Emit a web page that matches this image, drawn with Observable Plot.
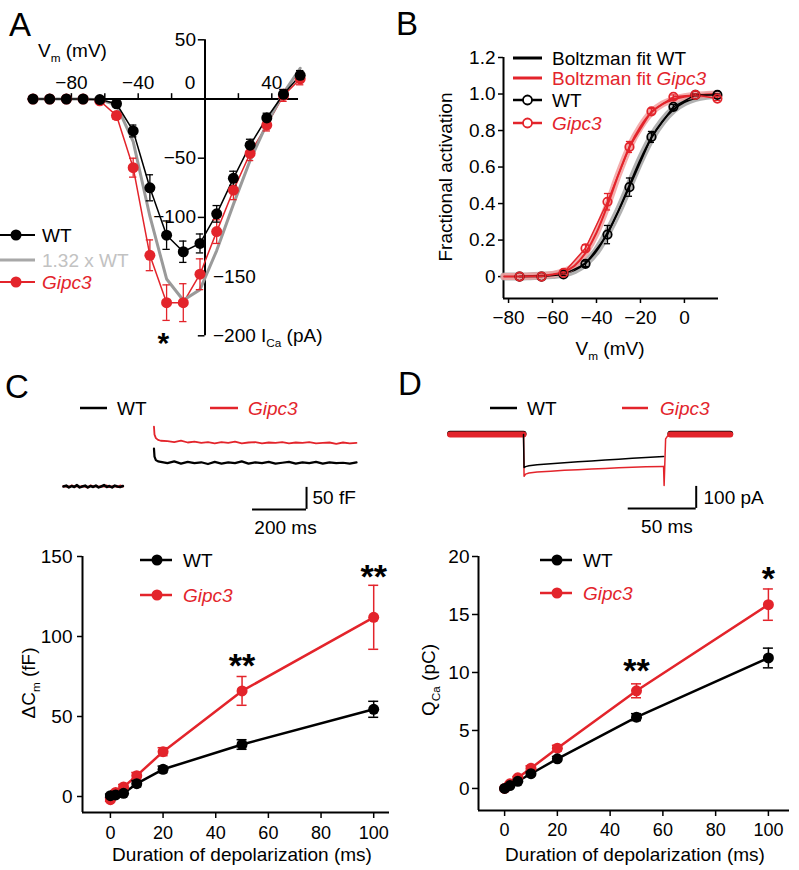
<!DOCTYPE html>
<html><head><meta charset="utf-8">
<script src="https://cdn.jsdelivr.net/npm/d3@7"></script>
<script src="https://cdn.jsdelivr.net/npm/@observablehq/plot@0.6"></script>
<style>
body{margin:0;background:#fff;}
#fig{position:relative;width:799px;height:870px;overflow:hidden;background:#fff;}
.panel{position:absolute;}
.panel svg{display:block;}
</style></head><body><div id="fig"></div>
<script>
// ---------- Panel A: I–V relation ----------
const ivVm = [-103,-93,-83,-73,-63,-53,-43,-33,-23,-13,-3,7,17,27,37,47,57];
const ivWT = [0,0,0,0,-0.5,-4,-27,-75,-115,-129,-122,-97,-67,-39,-16,4,20];
const ivWTerr = [0,0,0,0,0,2,5,11,12,9,8,7,6,5,4,4,4];
const ivGipc3 = [0,0,0,0,-1.5,-14,-58,-132,-172,-172,-148,-112,-77,-46,-22,3,17];
const ivGipc3err = [0,0,0,0,0,3,8,13,15,16,13,10,8,6,5,5,5];
const ivScaled = [0,0,0,0,-0.7,-5,-36,-99,-152,-170,-161,-128,-89,-52,-21,5,26]; // 1.32 x WT
const aXTicks = [-80,-60,-40,-20,20,40];
const aXLabels = [-80,-40,40];
const aYTicks = [50,-50,-100,-150,-200];
const aYLeft = [50,-50,-100];
const aYRight = [-150,-200];

// ---------- Panel B: activation ----------
const actVm = [-75,-65,-55,-45,-35,-25,-15,-5,5,15];
const actWT = [0,0,0.012,0.07,0.23,0.49,0.765,0.93,0.995,0.995];
const actWTerr = [0,0,0.005,0.015,0.05,0.05,0.03,0.012,0.005,0.005];
const actGipc3 = [0,0,0.02,0.155,0.41,0.71,0.905,0.985,0.995,0.975];
const actGipc3err = [0,0,0.006,0.02,0.045,0.03,0.015,0.01,0.005,0.01];
const fitVm = [-82,-75,-70,-65,-60,-55,-50,-45,-40,-35,-30,-25,-20,-15,-10,-5,0,5,10,15];
const fitWT = [0,0,0.002,0.004,0.008,0.016,0.035,0.075,0.14,0.24,0.36,0.5,0.64,0.76,0.85,0.915,0.955,0.978,0.99,0.996];
const fitGipc3 = [0,0.001,0.003,0.006,0.012,0.026,0.06,0.13,0.24,0.39,0.56,0.71,0.82,0.9,0.945,0.97,0.985,0.993,0.997,1.0];
const bXTicks = [-80,-60,-40,-20,0];
const bYTicks = [0,0.2,0.4,0.6,0.8,1.0,1.2];

// ---------- Panel C: capacitance traces & summary ----------
const cPreT = [0,10,20,30,40,50,60,70,80,90,100,110,120,130,140,150,160,170,180,190,200,210,220];
const cPreWT = [0,2,-2,1,-1,3,-2,0,2,-2,1,-1,2,-2,0,3,-1,1,-2,2,0,-1,1];
const cPreGipc3 = [1,0,-1,2,0,1,-1,1,0,-2,2,0,1,-1,1,0,2,-1,0,1,-1,2,0];
const cPostT = [335,337,342,350,360,385,410,435,460,485,510,535,560,585,610,635,660,685,710,735,760,785,810,835,860,885,910,935,960,985,1010,1035,1060,1085];
const cPostGipc3 = [136,118,110,106,104,103,101,104,100,102,99,101,98,101,99,102,98,100,101,98,100,99,101,98,100,99,101,98,99,100,97,100,98,99];
const cPostWT = [86,68,60,57,56,53,57,52,56,53,55,51,56,52,55,53,57,52,55,53,56,52,54,56,52,55,53,56,52,55,53,54,52,55];
const durMs = [0,2,5,10,20,50,100];
const cmWT = [0.5,1,2,8,17,32.5,54.5];
const cmWTerr = [1,1,1.2,2,2,3,5];
const cmGipc3 = [-2,2.5,6,13,28,66,112];
const cmGipc3err = [1,1.2,1.5,2,2.5,9,20];
const cXTicks = [0,20,40,60,80,100];
const cYTicks = [0,50,100,150];

// ---------- Panel D: current traces & charge ----------
const dPreT = [-54,0];
const dPreWT = [3,3];
const dPreGipc3 = [0,0];
const dPulseT = [0,0.4,1.5,4,10,20,30,40,50,60,70,80,90,103];
const dPulseWT = [0,-150,-146,-142,-138,-133,-128,-124,-120,-116,-112,-108,-104,-100];
const dPulseGipc3 = [0,-190,-180,-175,-171,-167,-163,-160,-157,-154,-151,-149,-147,-145];
const dTailT = [103,103.4,104.5,106,108];
const dTailWT = [-100,-200,-15,-4,3];
const dTailGipc3 = [-145,-232,-20,-6,0];
const dPostT = [108,152];
const dPostWT = [3,3];
const dPostGipc3 = [0,0];
const qWT = [0,0.25,0.62,1.27,2.56,6.15,11.25];
const qWTerr = [0.05,0.1,0.1,0.15,0.2,0.3,0.85];
const qGipc3 = [0,0.4,0.92,1.75,3.47,8.42,15.85];
const qGipc3err = [0.05,0.1,0.1,0.2,0.25,0.6,1.35];
const dXTicks = [0,20,40,60,80,100];
const dYTicks = [0,5,10,15,20];

// ---------- helpers ----------
const FONT = '"Liberation Sans", Arial, Helvetica, sans-serif';
const RED = "#e3242b";
const BLK = "#000";
const fig = document.getElementById("fig");
const minus = d => (d < 0 ? "\u2212" + Math.abs(d) : String(d));
const baseStyle = {background: "transparent", overflow: "visible", fontFamily: FONT, fontSize: "19px", color: "#000"};

function place(svg, left, top, w, h) {
  const d = document.createElement("div");
  d.className = "panel";
  Object.assign(d.style, {left: left + "px", top: top + "px", width: w + "px", height: h + "px"});
  d.appendChild(svg);
  fig.appendChild(d);
  return d3.select(svg);
}
function rich(sel, x, y, segs, o = {}) {
  const size = o.size || 19;
  const t = sel.append("text").attr("font-family", FONT).attr("font-size", size)
    .attr("fill", o.fill || "#000").attr("text-anchor", o.anchor || "start");
  if (o.weight) t.attr("font-weight", o.weight);
  if (o.rotate) t.attr("transform", `translate(${x},${y}) rotate(${o.rotate})`);
  else t.attr("x", x).attr("y", y);
  let shift = 0;
  for (const s of segs) {
    const seg = typeof s === "string" ? {t: s} : s;
    const sp = t.append("tspan").text(seg.t);
    const target = seg.sub ? size * 0.28 : 0;
    if (target !== shift) { sp.attr("dy", target - shift); shift = target; }
    if (seg.sub) sp.attr("font-size", size * 0.62);
    if (seg.it) sp.attr("font-style", "italic");
    if (seg.fill) sp.attr("fill", seg.fill);
  }
  return t;
}
function legendRow(sel, o) {
  sel.append("line").attr("x1", o.x1).attr("x2", o.x2).attr("y1", o.y).attr("y2", o.y)
    .attr("stroke", o.stroke).attr("stroke-width", o.sw || 2);
  if (o.dot) sel.append("circle").attr("cx", o.cx).attr("cy", o.y).attr("r", o.r || 5.5)
    .attr("fill", o.open ? "#fff" : o.stroke).attr("stroke", o.open ? o.stroke : "none")
    .attr("stroke-width", o.open ? 1.8 : 0);
  rich(sel, o.tx, o.y + 7, o.segs, {fill: o.fill || o.stroke, size: o.size || 19});
}
function errMarks(data, x, y, e, color, half, sw) {
  const f = data.filter(d => d[e] > 0);
  return [
    Plot.ruleX(f, {x, y1: d => d[y] - d[e], y2: d => d[y] + d[e], stroke: color, strokeWidth: sw}),
    Plot.ruleY(f, {y: d => d[y] - d[e], x1: d => d[x] - half, x2: d => d[x] + half, stroke: color, strokeWidth: sw}),
    Plot.ruleY(f, {y: d => d[y] + d[e], x1: d => d[x] - half, x2: d => d[x] + half, stroke: color, strokeWidth: sw})
  ];
}
const pairs = (xs, ys) => xs.map((x, i) => [x, ys[i]]);

// ---------- Panel A ----------
const A = ivVm.map((v, i) => ({v, wt: ivWT[i], we: ivWTerr[i], g: ivGipc3[i], ge: ivGipc3err[i], s: ivScaled[i]}));
const svgA = Plot.plot({
  width: 400, height: 360, margin: 0, style: baseStyle,
  x: {domain: [-100, 50], range: [37.5, 288], axis: null},
  y: {domain: [50, -200], range: [39.3, 335.3], axis: null},
  marks: [
    Plot.ruleY([0], {x1: -106, x2: 56, stroke: BLK, strokeWidth: 2}),
    Plot.ruleX([0], {y1: -200, y2: 50, stroke: BLK, strokeWidth: 2}),
    Plot.ruleX(aXTicks, {x: d => d, y1: 0, y2: 4.5, stroke: BLK, strokeWidth: 1.5}),
    Plot.ruleY(aYTicks, {y: d => d, x1: -4, x2: 0, stroke: BLK, strokeWidth: 1.5}),
    Plot.text(aXLabels, {x: d => d, y: 0, dy: -16, text: minus}),
    Plot.text([0], {x: 0, y: 0, dx: -15, dy: -16, text: minus}),
    Plot.text(aYLeft, {x: 0, y: d => d, dx: -9, textAnchor: "end", text: minus}),
    Plot.text(aYRight, {x: 0, y: d => d, dx: 8, textAnchor: "start", text: minus}),
    Plot.line(A, {x: "v", y: "g", stroke: RED, strokeWidth: 1.5}),
    Plot.line(A, {x: "v", y: "s", stroke: "#9a9a9a", strokeWidth: 3}),
    Plot.line(A, {x: "v", y: "wt", stroke: BLK, strokeWidth: 1.5}),
    ...errMarks(A, "v", "g", "ge", RED, 2.2, 1.3),
    ...errMarks(A, "v", "wt", "we", BLK, 2.2, 1.3),
    Plot.dot(A, {x: "v", y: "g", r: 5.5, fill: RED}),
    Plot.dot(A, {x: "v", y: "wt", r: 5.5, fill: BLK}),
    Plot.text(["*"], {x: -25, y: -200, dy: 8, text: d => d, fontSize: 30, fontWeight: "bold"})
  ]
});
const gA = place(svgA, 0, 0, 400, 360);
rich(gA, 38, 57, ["V", {t: "m", sub: true}, " (mV)"]);
rich(gA, 261, 342, ["I", {t: "Ca", sub: true}, " (pA)"]);
legendRow(gA, {x1: 0, x2: 35, cx: 16, y: 235, stroke: BLK, dot: true, tx: 42, segs: ["WT"]});
legendRow(gA, {x1: 0, x2: 35, y: 260, stroke: "#a8a8a8", sw: 3, tx: 42, fill: "#c2c2c2", segs: ["1.32 x WT"]});
legendRow(gA, {x1: 0, x2: 35, cx: 16, y: 282, stroke: RED, dot: true, tx: 42, segs: [{t: "Gipc3", it: true}]});

// ---------- Panel B ----------
const Bd = actVm.map((v, i) => ({v, wt: actWT[i], we: actWTerr[i], g: actGipc3[i], ge: actGipc3err[i]}));
const Fd = fitVm.map((v, i) => ({v, wt: fitWT[i], g: fitGipc3[i]}));
const svgB = Plot.plot({
  width: 399, height: 360, marginLeft: 103, marginRight: 81, marginTop: 57, marginBottom: 62, style: baseStyle,
  x: {domain: [-82.3, 15.5], label: null},
  y: {domain: [-0.12, 1.2], label: null},
  marks: [
    Plot.ruleX([-82.3], {y1: -0.12, y2: 1.2, stroke: BLK, strokeWidth: 2}),
    Plot.ruleY([-0.12], {x1: -82.3, x2: 15.5, stroke: BLK, strokeWidth: 2}),
    Plot.axisY({ticks: bYTicks, tickSize: 5, tickPadding: 3, strokeWidth: 1.5, label: null,
      tickFormat: d => (d === 0 ? "0" : d.toFixed(1))}),
    Plot.axisX({ticks: bXTicks, tickSize: 5, tickPadding: 7, strokeWidth: 1.5, label: null, tickFormat: minus}),
    Plot.line(Fd, {x: "v", y: "wt", stroke: "#9d9d9d", strokeOpacity: 0.8, strokeWidth: 8, curve: "monotone-x"}),
    Plot.line(Fd, {x: "v", y: "wt", stroke: BLK, strokeWidth: 2, curve: "monotone-x"}),
    Plot.line(Fd, {x: "v", y: "g", stroke: "#f2a0a0", strokeOpacity: 0.85, strokeWidth: 7, curve: "monotone-x"}),
    Plot.line(Fd, {x: "v", y: "g", stroke: RED, strokeWidth: 2, curve: "monotone-x"}),
    Plot.line(Bd, {x: "v", y: "wt", stroke: BLK, strokeWidth: 1.5}),
    Plot.line(Bd, {x: "v", y: "g", stroke: RED, strokeWidth: 1.5}),
    ...errMarks(Bd, "v", "wt", "we", BLK, 1.4, 1.3),
    ...errMarks(Bd, "v", "g", "ge", RED, 1.4, 1.3),
    Plot.dot(Bd, {x: "v", y: "wt", r: 4.2, fill: "none", stroke: BLK, strokeWidth: 1.8}),
    Plot.dot(Bd, {x: "v", y: "g", r: 4.2, fill: "none", stroke: RED, strokeWidth: 1.8})
  ]
});
const gB = place(svgB, 400, 0, 399, 360);
rich(gB, 51.5, 177, ["Fractional activation"], {anchor: "middle", rotate: -90});
rich(gB, 210, 355, ["V", {t: "m", sub: true}, " (mV)"], {anchor: "middle"});
legendRow(gB, {x1: 113, x2: 142, y: 58, stroke: BLK, sw: 3, tx: 152, segs: ["Boltzman fit WT"]});
legendRow(gB, {x1: 113, x2: 142, y: 78, stroke: RED, sw: 3, tx: 152, segs: ["Boltzman fit ", {t: "Gipc3", it: true}]});
legendRow(gB, {x1: 113, x2: 142, cx: 127.5, y: 100, stroke: BLK, sw: 2.5, dot: true, open: true, r: 4.5, tx: 152, segs: ["WT"]});
legendRow(gB, {x1: 113, x2: 142, cx: 127.5, y: 123, stroke: RED, sw: 2.5, dot: true, open: true, r: 4.5, tx: 152, segs: [{t: "Gipc3", it: true}]});

// ---------- Panel C traces ----------
const svgCt = Plot.plot({
  width: 400, height: 180, margin: 0, style: baseStyle,
  x: {domain: [0, 1085], range: [63, 356], axis: null},
  y: {domain: [-100, 150], range: [170, 60], axis: null},
  marks: [
    Plot.line(pairs(cPreT, cPreGipc3), {stroke: RED, strokeWidth: 2.2}),
    Plot.line(pairs(cPreT, cPreWT), {stroke: BLK, strokeWidth: 2.6}),
    Plot.line(pairs(cPostT, cPostGipc3), {stroke: RED, strokeWidth: 1.8}),
    Plot.line(pairs(cPostT, cPostWT), {stroke: BLK, strokeWidth: 2.2}),
    Plot.ruleY([-52], {x1: 700, x2: 900, stroke: BLK, strokeWidth: 2}),
    Plot.ruleX([900], {y1: -52, y2: -2, stroke: BLK, strokeWidth: 2}),
    Plot.text(["50 fF"], {x: 922, y: -27, text: d => d, textAnchor: "start"}),
    Plot.text(["200 ms"], {x: 822, y: -93, text: d => d})
  ]
});
const gCt = place(svgCt, 0, 360, 400, 180);
legendRow(gCt, {x1: 80, x2: 107, y: 48, stroke: BLK, sw: 2.5, tx: 117, segs: ["WT"]});
legendRow(gCt, {x1: 210, x2: 238, y: 48, stroke: RED, sw: 2.5, tx: 248, segs: [{t: "Gipc3", it: true}]});

// ---------- Panel D traces ----------
const svgDt = Plot.plot({
  width: 399, height: 180, margin: 0, style: baseStyle,
  x: {domain: [-54, 152], range: [49.6, 329.7], axis: null},
  y: {domain: [-450, 100], range: [173, 52], axis: null},
  marks: [
    Plot.line(pairs(dPreT, dPreWT), {stroke: BLK, strokeWidth: 6}),
    Plot.line(pairs(dPreT, dPreGipc3), {stroke: RED, strokeWidth: 6}),
    Plot.line(pairs(dPostT, dPostWT), {stroke: BLK, strokeWidth: 6}),
    Plot.line(pairs(dPostT, dPostGipc3), {stroke: RED, strokeWidth: 6}),
    Plot.line(pairs(dPulseT, dPulseGipc3), {stroke: RED, strokeWidth: 1.5}),
    Plot.line(pairs(dTailT, dTailGipc3), {stroke: RED, strokeWidth: 1.5}),
    Plot.line(pairs(dPulseT, dPulseWT), {stroke: BLK, strokeWidth: 1.5}),
    Plot.ruleY([-336], {x1: 77, x2: 127, stroke: BLK, strokeWidth: 2}),
    Plot.ruleX([127], {y1: -336, y2: -236, stroke: BLK, strokeWidth: 2}),
    Plot.text(["100 pA"], {x: 132.4, y: -286, text: d => d, textAnchor: "start"}),
    Plot.text(["50 ms"], {x: 105.5, y: -418, text: d => d})
  ]
});
const gDt = place(svgDt, 400, 360, 399, 180);
legendRow(gDt, {x1: 90, x2: 117, y: 48, stroke: BLK, sw: 2.5, tx: 127, segs: ["WT"]});
legendRow(gDt, {x1: 222, x2: 248, y: 48, stroke: RED, sw: 2.5, tx: 260, segs: [{t: "Gipc3", it: true}]});

// ---------- Panel C summary ----------
const Cd = durMs.map((t, i) => ({t, wt: cmWT[i], we: cmWTerr[i], g: cmGipc3[i], ge: cmGipc3err[i]}));
const svgC = Plot.plot({
  width: 400, height: 330, marginLeft: 82, marginRight: 11, marginTop: 16, marginBottom: 58, style: baseStyle,
  x: {domain: [-10.6, 106], label: null},
  y: {domain: [-10, 150], label: null},
  marks: [
    Plot.ruleX([-10.6], {y1: -10, y2: 150, stroke: BLK, strokeWidth: 2}),
    Plot.ruleY([-10], {x1: -10.6, x2: 106, stroke: BLK, strokeWidth: 2}),
    Plot.axisY({ticks: cYTicks, tickSize: 5, tickPadding: 5, strokeWidth: 1.5, label: null}),
    Plot.axisX({ticks: cXTicks, tickSize: 6, tickPadding: 8, strokeWidth: 1.5, label: null, fontSize: 18}),
    Plot.line(Cd, {x: "t", y: "wt", stroke: BLK, strokeWidth: 2.5}),
    Plot.line(Cd, {x: "t", y: "g", stroke: RED, strokeWidth: 2.5}),
    ...errMarks(Cd, "t", "g", "ge", RED, 1.9, 1.5),
    ...errMarks(Cd, "t", "wt", "we", BLK, 1.9, 1.5),
    Plot.dot(Cd, {x: "t", y: "g", r: 5.5, fill: RED}),
    Plot.dot(Cd, {x: "t", y: "wt", r: 5.5, fill: BLK}),
    Plot.text(["**"], {x: 50, y: 87, dy: 9, text: d => d, fontSize: 34, fontWeight: "bold"}),
    Plot.text(["**"], {x: 100, y: 143, dy: 9, text: d => d, fontSize: 34, fontWeight: "bold"})
  ]
});
const gC = place(svgC, 0, 540, 400, 330);
rich(gC, 35, 143, ["\u0394C", {t: "m", sub: true}, " (fF)"], {anchor: "middle", rotate: -90});
rich(gC, 242, 321, ["Duration of depolarization (ms)"], {anchor: "middle"});
legendRow(gC, {x1: 140, x2: 172, cx: 157, y: 20, stroke: BLK, sw: 2.5, dot: true, tx: 183, segs: ["WT"]});
legendRow(gC, {x1: 140, x2: 172, cx: 157, y: 55, stroke: RED, sw: 2.5, dot: true, tx: 183, segs: [{t: "Gipc3", it: true}]});

// ---------- Panel D summary ----------
const Dd = durMs.map((t, i) => ({t, wt: qWT[i], we: qWTerr[i], g: qGipc3[i], ge: qGipc3err[i]}));
const svgD = Plot.plot({
  width: 399, height: 330, marginLeft: 78, marginRight: 10, marginTop: 16, marginBottom: 60, style: baseStyle,
  x: {domain: [-9.9, 108], label: null},
  y: {domain: [-1.9, 20], label: null},
  marks: [
    Plot.ruleX([-9.9], {y1: -1.9, y2: 20, stroke: BLK, strokeWidth: 2}),
    Plot.ruleY([-1.9], {x1: -9.9, x2: 108, stroke: BLK, strokeWidth: 2}),
    Plot.axisY({ticks: dYTicks, tickSize: 6, tickPadding: 3, strokeWidth: 1.5, label: null}),
    Plot.axisX({ticks: dXTicks, tickSize: 6, tickPadding: 7, strokeWidth: 1.5, label: null, fontSize: 18}),
    Plot.line(Dd, {x: "t", y: "wt", stroke: BLK, strokeWidth: 2.5}),
    Plot.line(Dd, {x: "t", y: "g", stroke: RED, strokeWidth: 2.5}),
    ...errMarks(Dd, "t", "g", "ge", RED, 1.9, 1.5),
    ...errMarks(Dd, "t", "wt", "we", BLK, 1.9, 1.5),
    Plot.dot(Dd, {x: "t", y: "g", r: 5.5, fill: RED}),
    Plot.dot(Dd, {x: "t", y: "wt", r: 5.5, fill: BLK}),
    Plot.text(["**"], {x: 50, y: 10.9, dy: 9, text: d => d, fontSize: 34, fontWeight: "bold"}),
    Plot.text(["*"], {x: 100, y: 18.8, dy: 9, text: d => d, fontSize: 34, fontWeight: "bold"})
  ]
});
const gD = place(svgD, 400, 540, 399, 330);
rich(gD, 35, 140, ["Q", {t: "Ca", sub: true}, " (pC)"], {anchor: "middle", rotate: -90});
rich(gD, 235, 321, ["Duration of depolarization (ms)"], {anchor: "middle"});
legendRow(gD, {x1: 140, x2: 172, cx: 157, y: 20, stroke: BLK, sw: 2.5, dot: true, tx: 183, segs: ["WT"]});
legendRow(gD, {x1: 140, x2: 172, cx: 157, y: 53, stroke: RED, sw: 2.5, dot: true, tx: 183, segs: [{t: "Gipc3", it: true}]});

// ---------- Panel letters ----------
const letters = d3.select(fig).append("svg").attr("width", 799).attr("height", 870)
  .style("position", "absolute").style("left", "0px").style("top", "0px").style("pointer-events", "none");
[["A", 9, 35.5], ["B", 396, 35], ["C", 5, 398], ["D", 398, 395]].forEach(([t, x, y]) =>
  letters.append("text").attr("x", x).attr("y", y).attr("font-family", FONT).attr("font-size", 33).text(t));
</script></body></html>
